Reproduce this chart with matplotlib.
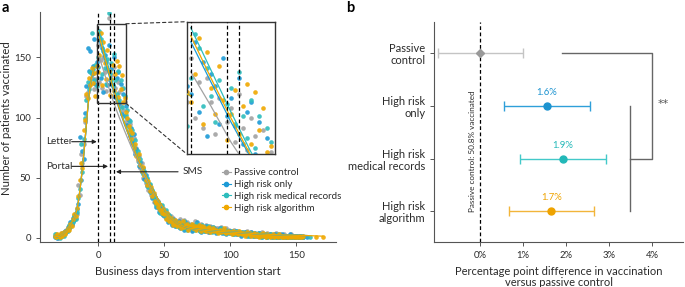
import numpy as np
import matplotlib
matplotlib.use("Agg")
import matplotlib.pyplot as plt
from matplotlib.patches import Rectangle, ConnectionPatch
from matplotlib.lines import Line2D

plt.rcParams['font.family'] = ['Lato', 'DejaVu Sans']

# ---------------- Panel a data ----------------
START_DAY = -33  # first business day of every daily series

series_names = ["Passive control", "High risk only", "High risk medical records", "High risk algorithm"]

grey_vals = [
    2, 3, 1, 0, 2, 3, 2, 5, 4, 7,
    7, 10, 12, 11, 14, 19, 17, 20, 44, 36,
    70, 62, 78, 96, 118, 121, 126, 128, 133, 137,
    124, 132, 138,
    160, 130, 148, 125, 150, 138, 122, 140, 183, 128,
    135, 118, 142, 125, 114, 130, 121, 110, 124, 106,
    113, 96, 99, 88, 95, 84, 78, 83, 72, 75,
    64, 68, 58, 62, 50, 55, 46, 49, 40, 44,
    36, 39, 30, 34, 28, 31, 24, 27, 20, 25,
    18, 22, 16, 20, 14, 18, 12, 17, 15, 11,
    14, 10, 16, 9, 12, 15, 8, 13, 11, 9,
    12, 7, 10, 14, 8, 11, 9, 6, 12, 10,
    7, 9, 11, 5, 8, 10, 6, 9, 7, 8,
    6, 8, 5, 9, 7, 4, 6, 8, 5, 7,
    4, 6, 5, 7, 3, 5, 6, 4, 5, 3,
    5, 4, 3, 6, 4, 2, 5, 3, 4, 2,
    3, 4, 2, 3, 5, 2, 3, 1, 4, 2,
    3, 2, 1, 3, 2, 4, 1, 2, 3, 1,
    2, 3, 1, 2, 1, 2, 3, 1, 2, 1,
    2, 1, 1, 2, 1, 1,
]
blue_vals = [
    1, 2, 0, 2, 1, 3, 4, 3, 6, 5,
    9, 8, 13, 12, 17, 15, 21, 24, 28, 84,
    48, 72, 66, 104, 126, 158, 139, 155, 136, 143,
    165, 128, 146,
    142, 168, 133, 158, 121, 152, 146, 127, 160, 131,
    140, 126, 150, 117, 133, 138, 112, 128, 103, 120,
    101, 110, 94, 98, 85, 91, 80, 86, 70, 74,
    69, 60, 63, 55, 58, 49, 52, 43, 46, 38,
    41, 33, 36, 30, 26, 29, 22, 26, 24, 19,
    21, 17, 19, 13, 18, 15, 11, 16, 10, 13,
    11, 14, 8, 12, 10, 7, 13, 9, 11, 8,
    10, 6, 11, 8, 9, 13, 7, 10, 5, 9,
    8, 6, 10, 7, 5, 9, 7, 6, 8, 4,
    7, 5, 8, 6, 4, 7, 5, 3, 6, 5,
    6, 4, 3, 5, 6, 3, 4, 5, 2, 4,
    3, 5, 4, 2, 4, 3, 5, 2, 3, 4,
    2, 3, 4, 2, 1, 3, 2, 3, 1, 2,
    3, 1, 2, 2, 3, 1, 2, 1, 2, 3,
    1, 2, 1, 2, 1, 3, 1, 2, 1, 1,
    2, 1, 1, 2, 1, 1,
]
teal_vals = [
    3, 1, 2, 1, 0, 2, 3, 2, 4, 6,
    6, 11, 9, 14, 13, 18, 16, 22, 33, 41,
    78, 55, 82, 100, 115, 130, 124, 138, 170, 140,
    131, 144, 126,
    150, 172, 165, 136, 155, 141, 128, 149, 187, 137,
    145, 127, 153, 131, 120, 139, 115, 131, 109, 125,
    118, 102, 106, 92, 97, 86, 90, 77, 81, 70,
    72, 63, 66, 57, 53, 56, 47, 50, 42, 45,
    38, 40, 34, 32, 27, 30, 25, 21, 27, 22,
    19, 23, 17, 15, 19, 13, 16, 12, 14, 10,
    13, 9, 12, 11, 8, 14, 10, 7, 12, 9,
    8, 11, 9, 7, 12, 8, 10, 6, 9, 11,
    6, 8, 7, 10, 6, 8, 5, 9, 7, 6,
    5, 7, 6, 8, 5, 6, 4, 7, 6, 4,
    5, 6, 4, 3, 6, 4, 5, 3, 4, 5,
    4, 3, 5, 3, 2, 4, 3, 4, 2, 3,
    3, 2, 4, 1, 3, 2, 2, 3, 1, 2,
    2, 3, 1, 2, 2, 1, 3, 2, 1, 2,
    2, 1, 2, 1, 2, 1, 1, 2, 1, 2,
    1, 2, 1, 1, 2, 1,
]
orange_vals = [
    2, 1, 3, 2, 1, 4, 2, 5, 3, 6,
    8, 7, 12, 10, 16, 20, 18, 25, 35, 48,
    62, 58, 90, 98, 120, 116, 133, 127, 141, 129,
    137, 118, 143,
    138, 152, 170, 127, 163, 145, 132, 156, 139, 119,
    132, 144, 122, 136, 147, 117, 143, 124, 135, 113,
    116, 105, 100, 93, 90, 82, 87, 75, 78, 68,
    66, 70, 61, 56, 59, 52, 48, 44, 47, 39,
    42, 35, 37, 31, 29, 26, 28, 23, 21, 24,
    20, 16, 21, 18, 14, 17, 13, 11, 15, 12,
    10, 13, 11, 8, 14, 9, 11, 12, 7, 10,
    9, 12, 8, 10, 7, 9, 11, 8, 6, 10,
    9, 7, 6, 8, 9, 5, 7, 8, 6, 7,
    6, 4, 7, 5, 6, 8, 5, 4, 6, 5,
    5, 3, 6, 4, 5, 4, 3, 6, 4, 3,
    4, 2, 3, 5, 3, 4, 2, 3, 4, 2,
    3, 2, 1, 3, 2, 4, 2, 1, 3, 2,
    1, 2, 3, 1, 2, 2, 1, 3, 2, 1,
    2, 1, 2, 1, 1, 2, 1, 2, 1, 2,
    1, 1, 2, 1, 1, 2,
]
# isolated late points
blue_extra_days, blue_extra_vals = [158], [1]
teal_extra_days, teal_extra_vals = [160], [1]
orange_extra_days, orange_extra_vals = [165, 170], [1, 1]

# fitted curves (pre- and post-intervention segments)
pre_fit_days = [-33, -31, -29, -27, -25, -23, -21, -19, -17, -16, -15, -14, -13, -12,
                -11, -10, -9, -8, -7, -6, -5, -4, -3, -2, -1, 0]
pre_fit_vals = [1.5, 1, 1.5, 3, 5, 8, 11, 15, 20, 24, 30, 38, 47, 57,
                68, 80, 93, 106, 117, 126, 133, 138, 141, 142, 142, 141]
post_fit_days = [0, 5, 10, 15, 20, 25, 30, 35, 40, 45, 50, 55, 60, 65, 70, 80, 90, 100, 120, 140, 158]
grey_post_fit = [153, 136, 118, 103, 89, 76, 64, 52, 42, 32, 24, 17, 12, 9.5, 8, 6.5, 5.5, 5, 3.5, 2.5, 2]
blue_post_fit = [168, 148, 128, 110, 94, 80, 66, 54, 43, 33, 24, 17, 12, 9.5, 8, 6.5, 5.5, 5, 3.5, 2.5, 2]
teal_post_fit = [175, 154, 133, 113, 96, 81, 67, 54, 43, 33, 24, 17, 12, 9.5, 8, 6.5, 5.5, 5, 3.5, 2.5, 2]
orange_post_fit = [171, 150, 130, 111, 95, 80, 66, 54, 43, 33, 24, 17, 12, 9.5, 8, 6.5, 5.5, 5, 3.5, 2.5, 2]
orange_fit_tail_days, orange_fit_tail_vals = [170], [1.5]

intervention_days = [0, 9, 12]        # letter, portal, SMS
intervention_labels = ["Letter", "Portal", "SMS"]

# ---------------- Panel b data ----------------
groups = ["Passive\ncontrol", "High risk\nonly", "High risk\nmedical records", "High risk\nalgorithm"]
estimates = [0.0, 1.56, 1.92, 1.66]
ci_low = [-0.98, 0.56, 0.93, 0.67]
ci_high = [1.0, 2.56, 2.92, 2.65]
est_labels = ["", "1.6%", "1.9%", "1.7%"]
x_ticks_b = [0, 1, 2, 3, 4]
x_tick_labels_b = ["0%", "1%", "2%", "3%", "4%"]

# ---------------- styles ----------------
C_GREY = "#a2a2a2"
C_BLUE = "#1c9ad6"
C_TEAL = "#2dbdbd"
C_ORANGE = "#f0a800"
TXT = "#2a2a2a"
SPINE = "#555555"

fig = plt.figure(figsize=(6.85, 2.87), dpi=100)

# ================= Panel a =================
axa = fig.add_axes([0.0584, 0.1557, 0.432, 0.8035])
axi = fig.add_axes([0.2726, 0.4634, 0.1289, 0.461])

scatter_sets = [
    (grey_vals, [], [], C_GREY),
    (blue_vals, blue_extra_days, blue_extra_vals, C_BLUE),
    (teal_vals, teal_extra_days, teal_extra_vals, C_TEAL),
    (orange_vals, orange_extra_days, orange_extra_vals, C_ORANGE),
]
for ax in (axa, axi):
    for vals, xd, xv, col in scatter_sets:
        d = list(range(START_DAY, START_DAY + len(vals))) + list(xd)
        v = list(vals) + list(xv)
        ax.scatter(d, v, s=11, color=col, alpha=0.9, linewidths=0, zorder=2)

    fits = [(grey_post_fit, C_GREY, [], []),
            (blue_post_fit, C_BLUE, [], []),
            (teal_post_fit, C_TEAL, [], []),
            (orange_post_fit, C_ORANGE, orange_fit_tail_days, orange_fit_tail_vals)]
    for pf, col, td, tv in fits:
        ax.plot(pre_fit_days, pre_fit_vals, color=col, lw=0.9, zorder=3)
        ax.plot(list(post_fit_days) + td, list(pf) + tv, color=col, lw=0.9, zorder=3)
    for d in intervention_days:
        ax.axvline(d, color="black", ls=(0, (3, 2)), lw=0.9, zorder=4)

axa.set_xlim(-44, 180)
axa.set_ylim(-3.6, 188)
axa.set_xticks([0, 50, 100, 150])
axa.set_yticks([0, 50, 100, 150])
for s in ("top", "right"):
    axa.spines[s].set_visible(False)
for s in ("left", "bottom"):
    axa.spines[s].set_color(SPINE)
    axa.spines[s].set_linewidth(0.8)
axa.tick_params(labelsize=7, colors=TXT, length=3, width=0.7, color=SPINE)
axa.set_xlabel("Business days from intervention start", fontsize=8.2, color=TXT, labelpad=4)
axa.set_ylabel("Number of patients vaccinated", fontsize=8.2, color=TXT, labelpad=3)
axa.yaxis.set_label_coords(-0.095, 0.54)

# inset
IN_X, IN_Y = (-1, 21), (112, 178)
axi.set_xlim(*IN_X)
axi.set_ylim(*IN_Y)
axi.set_xticks([])
axi.set_yticks([])
for s in axi.spines.values():
    s.set_color("#333333")
    s.set_linewidth(1.0)
axa.add_patch(Rectangle((IN_X[0], IN_Y[0]), IN_X[1] - IN_X[0], IN_Y[1] - IN_Y[0],
                        fill=False, ec="#333333", lw=1.0, zorder=5))
for ya, yb in ((IN_Y[1], 1), (IN_Y[0], 0)):
    con = ConnectionPatch(xyA=(IN_X[1], ya), coordsA=axa.transData,
                          xyB=(0, yb), coordsB=axi.transAxes,
                          ls=(0, (3, 2.5)), color="#333333", lw=0.8)
    fig.add_artist(con)

# arrows
arrow_kw = dict(arrowstyle="-|>", color="#222222", lw=0.8, mutation_scale=6, shrinkA=0, shrinkB=0)
axa.annotate("", xy=(intervention_days[0] - 1, 80), xytext=(-20, 80), arrowprops=arrow_kw)
axa.text(-39, 80, intervention_labels[0], fontsize=7.2, color=TXT, ha="left", va="center")
axa.annotate("", xy=(intervention_days[1] - 1.5, 59.5), xytext=(-20, 59.5), arrowprops=arrow_kw)
axa.text(-39, 59.5, intervention_labels[1], fontsize=7.2, color=TXT, ha="left", va="center")
axa.annotate("", xy=(intervention_days[2] + 1.5, 55), xytext=(60.5, 55), arrowprops=arrow_kw)
axa.text(64, 55, intervention_labels[2], fontsize=7.2, color=TXT, ha="left", va="center")

handles = [Line2D([], [], color=c, marker="o", ms=3, lw=0.8)
           for c in (C_GREY, C_BLUE, C_TEAL, C_ORANGE)]
axa.legend(handles, series_names, loc="upper left", bbox_to_anchor=(0.615, 0.322),
           frameon=False, fontsize=7, handlelength=0.9, handletextpad=0.35,
           labelspacing=0.3, borderpad=0, borderaxespad=0, labelcolor=TXT)

# ================= Panel b =================
axb = fig.add_axes([0.634, 0.1557, 0.363, 0.7686])
bar_cols = ["#c4c4c4", "#2f9fd9", "#43c9c9", "#f2b53a"]
pt_cols = ["#999999", "#1c93d0", "#22b8b8", "#eea300"]
markers = ["D", "o", "o", "o"]
ypos = np.arange(len(groups))
axb.axvline(0, color="black", ls=(0, (3, 2)), lw=0.9, zorder=1)
for i in range(len(groups)):
    axb.errorbar(estimates[i], ypos[i],
                 xerr=[[estimates[i] - ci_low[i]], [ci_high[i] - estimates[i]]],
                 fmt="none", ecolor=bar_cols[i], elinewidth=1.0, capsize=3.5, capthick=1.0, zorder=2)
    axb.plot(estimates[i], ypos[i], marker=markers[i], ms=5 if markers[i] == "o" else 4.2,
             color=pt_cols[i], ls="none", zorder=3)
    if est_labels[i]:
        axb.text(estimates[i], ypos[i] - 0.17, est_labels[i], color=pt_cols[i],
                 fontsize=6.8, ha="center", va="bottom")

# significance bracket
axb.plot([1.91, 4.0, 4.0, 3.5], [ypos[0], ypos[0], ypos[2], ypos[2]], color="#666666", lw=1.0, zorder=1)
axb.plot([3.5, 3.5], [ypos[1], ypos[3]], color="#666666", lw=1.0, zorder=1)
axb.text(4.14, 0.97, "**", fontsize=8, color="#555555", ha="left", va="center",
         family=["DejaVu Sans"])

axb.text(-0.17, 1.86, "Passive control: 50.8% vaccinated", rotation=90, fontsize=5.9,
         color=TXT, ha="center", va="center")

axb.set_xlim(-1.063, 4.72)
axb.set_ylim(3.59, -0.60)
axb.set_yticks(ypos)
axb.set_yticklabels(groups, fontsize=8, color=TXT, linespacing=1.1)
axb.set_xticks(x_ticks_b)
axb.set_xticklabels(x_tick_labels_b, fontsize=6.8, color=TXT)
for s in ("top", "right"):
    axb.spines[s].set_visible(False)
for s in ("left", "bottom"):
    axb.spines[s].set_color(SPINE)
    axb.spines[s].set_linewidth(0.8)
axb.tick_params(length=3, width=0.7, color=SPINE)
axb.set_xlabel("Percentage point difference in vaccination\nversus passive control",
               fontsize=8, color=TXT, labelpad=4, linespacing=1.05)

fig.text(0.003, 0.995, "a", fontsize=10.5, fontweight="bold", va="top", ha="left")
fig.text(0.505, 0.995, "b", fontsize=10.5, fontweight="bold", va="top", ha="left")

fig.savefig("out.png", dpi=100)
